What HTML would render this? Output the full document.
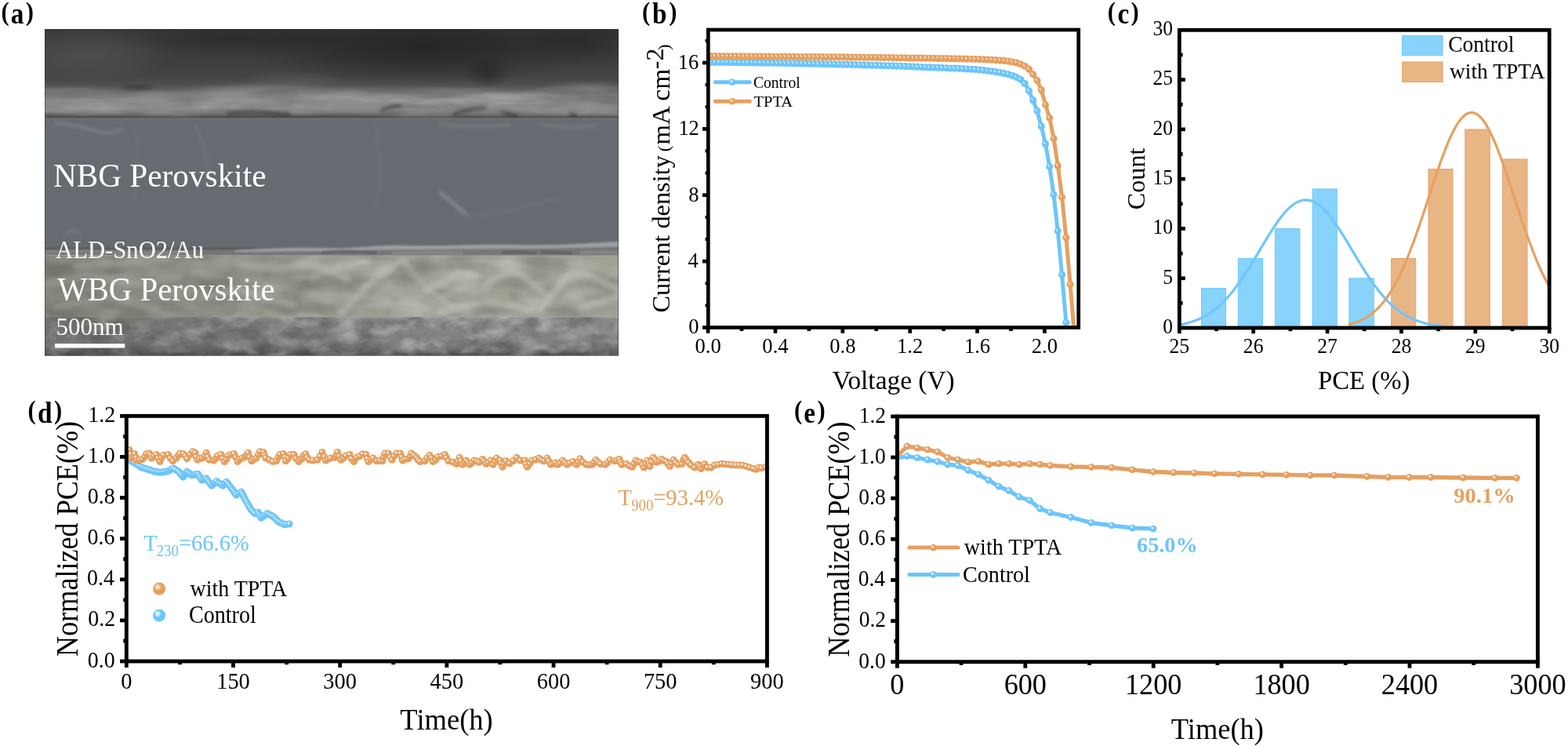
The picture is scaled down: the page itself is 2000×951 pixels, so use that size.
<!DOCTYPE html>
<html lang="en"><head><meta charset="utf-8"><title>Figure</title>
<style>
html,body{margin:0;padding:0;background:#fff;}
body{width:2000px;height:951px;overflow:hidden;position:relative;}
svg{position:absolute;left:0;top:0;display:block;}
svg text{font-family:'Liberation Serif','Times New Roman',serif;}
</style></head><body>
<svg width="2000" height="951" viewBox="0 0 2000 951">
<defs>
<g id="mb"><circle r="4.55" fill="#6cc5fa"/><ellipse cx="-1.3" cy="-1.1" rx="0.8" ry="1.75" transform="rotate(-28 -1.3 -1.1)" fill="#fff" fill-opacity="0.78"/></g>
<g id="mo"><circle r="4.55" fill="#e5a060"/><ellipse cx="-1.3" cy="-1.1" rx="0.8" ry="1.75" transform="rotate(-28 -1.3 -1.1)" fill="#fff" fill-opacity="0.78"/></g>
<g id="db"><circle r="4.55" fill="#6cc5fa"/><circle cx="-1.1" cy="-1.2" r="1.6" fill="#fff" fill-opacity="0.78"/></g>
<g id="do"><circle r="4.55" fill="#e5a060"/><circle cx="-1.1" cy="-1.2" r="1.6" fill="#fff" fill-opacity="0.78"/></g>
<g id="Mb"><circle r="4.4" fill="#6cc5fa"/><circle cx="-1" cy="-1.2" r="1.7" fill="#fff" fill-opacity="0.72"/></g>
<g id="Mo"><circle r="4.4" fill="#e5a060"/><circle cx="-1" cy="-1.2" r="1.7" fill="#fff" fill-opacity="0.72"/></g>
<radialGradient id="gLo" cx="0.38" cy="0.36" r="0.62"><stop offset="0" stop-color="#fff"/><stop offset="0.22" stop-color="#f3d2b4"/><stop offset="0.5" stop-color="#e5a060"/><stop offset="1" stop-color="#e5a060"/></radialGradient>
<radialGradient id="gLb" cx="0.38" cy="0.36" r="0.62"><stop offset="0" stop-color="#fff"/><stop offset="0.22" stop-color="#c4e8fd"/><stop offset="0.5" stop-color="#6cc5fa"/><stop offset="1" stop-color="#6cc5fa"/></radialGradient>
</defs>
<defs>
<clipPath id="clipA"><rect x="57" y="37" width="732" height="416.6"/></clipPath>
<linearGradient id="gTop" gradientUnits="userSpaceOnUse" x1="0" y1="37" x2="0" y2="151"><stop offset="0.000" stop-color="#3a3a3a"/><stop offset="0.360" stop-color="#3e3e3e"/><stop offset="0.535" stop-color="#454545"/><stop offset="0.623" stop-color="#4f4f4f"/><stop offset="0.684" stop-color="#656565"/><stop offset="0.737" stop-color="#828282"/><stop offset="0.798" stop-color="#8e8e8e"/><stop offset="0.895" stop-color="#8a8a8a"/><stop offset="0.956" stop-color="#747474"/><stop offset="1.000" stop-color="#545454"/></linearGradient>
<linearGradient id="gBot" gradientUnits="userSpaceOnUse" x1="0" y1="404" x2="0" y2="454"><stop offset="0.000" stop-color="#8e8e8e"/><stop offset="0.160" stop-color="#868686"/><stop offset="0.640" stop-color="#808080"/><stop offset="0.820" stop-color="#707070"/><stop offset="1.000" stop-color="#505050"/></linearGradient>
<linearGradient id="mTop" gradientUnits="userSpaceOnUse" x1="0" y1="37" x2="0" y2="151"><stop offset="0.000" stop-color="#000"/><stop offset="0.623" stop-color="#000"/><stop offset="0.746" stop-color="#fff"/><stop offset="0.956" stop-color="#fff"/><stop offset="1.000" stop-color="#888"/></linearGradient>
<radialGradient id="rD"><stop offset="0" stop-color="#1c1c1c" stop-opacity="0.7"/><stop offset="0.5" stop-color="#1c1c1c" stop-opacity="0.42"/><stop offset="1" stop-color="#1c1c1c" stop-opacity="0"/></radialGradient>
<radialGradient id="rD2"><stop offset="0" stop-color="#1c1c1c" stop-opacity="0.45"/><stop offset="0.5" stop-color="#1c1c1c" stop-opacity="0.27"/><stop offset="1" stop-color="#1c1c1c" stop-opacity="0"/></radialGradient>
<radialGradient id="rL"><stop offset="0" stop-color="#6a6a6a" stop-opacity="0.35"/><stop offset="0.5" stop-color="#6a6a6a" stop-opacity="0.21"/><stop offset="1" stop-color="#6a6a6a" stop-opacity="0"/></radialGradient>
<radialGradient id="rL2"><stop offset="0" stop-color="#8a8a8a" stop-opacity="0.5"/><stop offset="0.5" stop-color="#8a8a8a" stop-opacity="0.3"/><stop offset="1" stop-color="#8a8a8a" stop-opacity="0"/></radialGradient>
<filter id="blur3" x="-20%" y="-100%" width="140%" height="300%"><feGaussianBlur stdDeviation="2"/></filter>
<filter id="blur4" x="-20%" y="-100%" width="140%" height="300%"><feGaussianBlur stdDeviation="3.2"/></filter>
<filter id="blur1" x="-20%" y="-100%" width="140%" height="300%"><feGaussianBlur stdDeviation="1.2"/></filter>
<filter id="nzW" x="0" y="0" width="100%" height="100%" color-interpolation-filters="sRGB">
<feTurbulence type="fractalNoise" baseFrequency="0.016 0.03" numOctaves="3" seed="7"/>
<feColorMatrix type="matrix" values="0 0 0 0 1  0 0 0 0 1  0 0 0 0 1  2.6 0 0 0 -1.05"/></filter>
<filter id="nzD" x="0" y="0" width="100%" height="100%" color-interpolation-filters="sRGB">
<feTurbulence type="fractalNoise" baseFrequency="0.02 0.04" numOctaves="3" seed="21"/>
<feColorMatrix type="matrix" values="0 0 0 0 0  0 0 0 0 0  0 0 0 0 0  0 2.4 0 0 -1.0"/></filter>
<filter id="nzB" x="0" y="0" width="100%" height="100%" color-interpolation-filters="sRGB">
<feTurbulence type="fractalNoise" baseFrequency="0.035 0.06" numOctaves="3" seed="4"/>
<feColorMatrix type="matrix" values="0 0 0 0 1  0 0 0 0 1  0 0 0 0 1  2.6 0 0 0 -1.05"/></filter>
<filter id="nzB2" x="0" y="0" width="100%" height="100%" color-interpolation-filters="sRGB">
<feTurbulence type="fractalNoise" baseFrequency="0.035 0.06" numOctaves="3" seed="13"/>
<feColorMatrix type="matrix" values="0 0 0 0 0  0 0 0 0 0  0 0 0 0 0  0 2.4 0 0 -1.0"/></filter>
<filter id="nzT" x="0" y="0" width="100%" height="100%" color-interpolation-filters="sRGB">
<feTurbulence type="fractalNoise" baseFrequency="0.012 0.06" numOctaves="3" seed="9"/>
<feColorMatrix type="matrix" values="0 0 0 0 1  0 0 0 0 1  0 0 0 0 1  2.2 0 0 0 -0.9"/></filter>
<filter id="nzT2" x="0" y="0" width="100%" height="100%" color-interpolation-filters="sRGB">
<feTurbulence type="fractalNoise" baseFrequency="0.012 0.06" numOctaves="3" seed="31"/>
<feColorMatrix type="matrix" values="0 0 0 0 0  0 0 0 0 0  0 0 0 0 0  0 2.2 0 0 -0.9"/></filter>
<filter id="grain" x="0" y="0" width="100%" height="100%" color-interpolation-filters="sRGB">
<feTurbulence type="fractalNoise" baseFrequency="0.7" numOctaves="2" seed="2"/>
<feColorMatrix type="matrix" values="0 0 0 0 0.5  0 0 0 0 0.5  0 0 0 0 0.5  0 0 0 0 1"/></filter>
<mask id="mkTop" maskUnits="userSpaceOnUse" x="57" y="37" width="732" height="114"><rect x="57" y="37" width="732" height="114" fill="url(#mTop)"/></mask>

</defs>
<g clip-path="url(#clipA)">
<rect x="57" y="37" width="732" height="114" fill="url(#gTop)"/>
<ellipse cx="540" cy="58" rx="230" ry="50" fill="url(#rD)"/>
<ellipse cx="622" cy="93" rx="30" ry="20" fill="url(#rD2)"/>
<ellipse cx="745" cy="50" rx="90" ry="36" fill="url(#rD2)"/>
<ellipse cx="300" cy="48" rx="150" ry="26" fill="url(#rD2)"/>
<ellipse cx="110" cy="70" rx="110" ry="34" fill="url(#rL)"/>
<ellipse cx="372" cy="106" rx="70" ry="16" fill="url(#rL)"/>
<ellipse cx="176" cy="112" rx="28" ry="6" fill="url(#rD2)"/>
<ellipse cx="330" cy="114" rx="100" ry="9" fill="url(#rL2)"/>
<ellipse cx="750" cy="112" rx="60" ry="9" fill="url(#rL2)"/>
<ellipse cx="100" cy="118" rx="60" ry="7" fill="url(#rL2)"/>
<ellipse cx="560" cy="116" rx="60" ry="6" fill="url(#rL2)"/>
<g mask="url(#mkTop)">
<rect x="57" y="37" width="732" height="114" filter="url(#nzT)" opacity="0.22"/>
<rect x="57" y="37" width="732" height="114" filter="url(#nzT2)" opacity="0.2"/>
</g>
<g filter="url(#blur3)">
<path d="M57 146 C 150 149, 250 150, 340 147 S 460 151, 560 150 S 700 147, 789 150 L789 153 L57 153 Z" fill="#474747" fill-opacity="0.85"/>
<path d="M290 144 q 40 -3 80 2 M486 141 q 12 -6 26 -6 M578 146 q 20 -8 42 -8 M640 143 q 10 3 20 5 M726 146 l 10 1" stroke="#2c2c2c" stroke-width="3.2" fill="none" stroke-opacity="0.8"/>
<path d="M180 124 q 60 -8 120 -2 M380 118 q 50 -6 90 4 M650 128 q 50 -4 90 -2" stroke="#8a8a8a" stroke-width="5" fill="none" stroke-opacity="0.4"/>
</g>
<rect x="57" y="150.6" width="732" height="175.4" fill="#656b70"/>
<rect x="57" y="150.6" width="732" height="0.9" fill="#7d8388" fill-opacity="0.7"/>
<g filter="url(#blur3)" fill="none" stroke="#959da5" stroke-linecap="round">
<path d="M562 246 q 16 12 32 27" stroke-width="4.5" stroke-opacity="0.6"/>
<path d="M596 276 q 60 -6 115 -24" stroke-width="2.5" stroke-opacity="0.22"/>
<path d="M70 156 q 30 4 55 12 q 15 4 30 -4" stroke-width="3.5" stroke-opacity="0.45"/>
<path d="M250 160 q 12 30 18 70" stroke-width="4" stroke-opacity="0.18"/>
<path d="M175 170 q 5 40 -5 90" stroke-width="5" stroke-opacity="0.12"/>
<path d="M480 160 q 6 40 2 100" stroke-width="5" stroke-opacity="0.10"/>
<path d="M560 157 q 40 8 90 2 M690 158 q 30 8 70 2" stroke-width="3" stroke-opacity="0.4"/>
<path d="M82 300 q 10 -10 22 -2" stroke-width="3" stroke-opacity="0.35"/>
</g>
<g filter="url(#blur1)">
<rect x="40" y="317" width="780" height="9.5" fill="#767777"/>
<rect x="40" y="316" width="400" height="2.2" fill="#4a4d51" fill-opacity="0.9"/>
<path d="M300 319 C 340 316, 370 315, 420 316 S 470 312, 520 313 S 600 311, 660 312 S 740 310, 789 308 L789 315 C 740 316, 700 317, 660 317 S 560 318, 520 318 S 440 320, 400 320 S 340 321, 300 321 Z" fill="#a3a8ad" fill-opacity="0.85"/>
<path d="M57 321 q 40 -3 80 0 t 100 0" stroke="#8e9194" stroke-width="3" stroke-opacity="0.6" fill="none"/>
<path d="M410 322 q 30 -3 70 0 M640 322 q 20 -2 44 1 M690 321 q 20 1 40 2" stroke="#5a5b5c" stroke-width="4" stroke-opacity="0.75" fill="none"/>
<path d="M500 323 q 40 -2 90 0 M740 322 q 20 -1 49 0" stroke="#8e8f90" stroke-width="4" stroke-opacity="0.7" fill="none"/>
</g>
<rect x="57" y="325.6" width="732" height="78.6" fill="#a1a095"/>
<rect x="57" y="325.6" width="732" height="78.6" filter="url(#nzW)" opacity="0.26"/>
<rect x="57" y="325.6" width="732" height="78.6" filter="url(#nzD)" opacity="0.16"/>
<clipPath id="clipW"><rect x="57" y="326.2" width="732" height="77.6"/></clipPath>
<g clip-path="url(#clipW)"><g filter="url(#blur4)" fill="none" stroke-linecap="round" stroke-linejoin="round">
<path d="M434.7 399 L476.3 355.7 L511 332.5" stroke="#cbcac2" stroke-width="7" stroke-opacity="0.55"/>
<path d="M439.7 408 L481.3 364.7 L516 341.5" stroke="#87867e" stroke-width="7" stroke-opacity="0.32"/>
<path d="M515.7 332.5 L543.4 369.6 L575.8 390.4" stroke="#cbcac2" stroke-width="7" stroke-opacity="0.55"/>
<path d="M520.7 341.5 L548.4 378.6 L580.8 399.4" stroke="#87867e" stroke-width="7" stroke-opacity="0.32"/>
<path d="M543.4 369.6 L585 348.7 L608.2 351" stroke="#cbcac2" stroke-width="7" stroke-opacity="0.55"/>
<path d="M548.4 378.6 L590 357.7 L613.2 360" stroke="#87867e" stroke-width="7" stroke-opacity="0.32"/>
<path d="M622 360.3 L654.5 344.1 L689.2 369.6" stroke="#cbcac2" stroke-width="7" stroke-opacity="0.55"/>
<path d="M627 369.3 L659.5 353.1 L694.2 378.6" stroke="#87867e" stroke-width="7" stroke-opacity="0.32"/>
<path d="M689.2 394 L723.9 351 L747 348.7 L788.7 369.6" stroke="#cbcac2" stroke-width="7" stroke-opacity="0.55"/>
<path d="M694.2 403 L728.9 360 L752 357.7 L793.7 378.6" stroke="#87867e" stroke-width="7" stroke-opacity="0.32"/>
<path d="M400 351 L434.7 339.5 L469.4 332.5" stroke="#cbcac2" stroke-width="7" stroke-opacity="0.55"/>
<path d="M405 360 L439.7 348.5 L474.4 341.5" stroke="#87867e" stroke-width="7" stroke-opacity="0.32"/>
<path d="M96.3 339.5 L165.7 334 L212 330" stroke="#cbcac2" stroke-width="7" stroke-opacity="0.55"/>
<path d="M101.3 348.5 L170.7 343 L217 339" stroke="#87867e" stroke-width="7" stroke-opacity="0.32"/>
<path d="M304.5 337.2 L350.8 341.8 L397 337.2 L443.3 355.7" stroke="#cbcac2" stroke-width="7" stroke-opacity="0.55"/>
<path d="M309.5 346.2 L355.8 350.8 L402 346.2 L448.3 364.7" stroke="#87867e" stroke-width="7" stroke-opacity="0.32"/>
<path d="M258.2 378.8 L304.5 369.6 L373.9 388.1" stroke="#cbcac2" stroke-width="7" stroke-opacity="0.55"/>
<path d="M263.2 387.8 L309.5 378.6 L378.9 397.1" stroke="#87867e" stroke-width="7" stroke-opacity="0.32"/>
<path d="M60 362 L110 350 L170 362 L230 352" stroke="#cbcac2" stroke-width="7" stroke-opacity="0.55"/>
<path d="M65 371 L115 359 L175 371 L235 361" stroke="#87867e" stroke-width="7" stroke-opacity="0.32"/>
<path d="M70 392 L140 380 L200 394" stroke="#cbcac2" stroke-width="7" stroke-opacity="0.55"/>
<path d="M75 401 L145 389 L205 403" stroke="#87867e" stroke-width="7" stroke-opacity="0.32"/>
<path d="M560 398 L620 384 L680 396" stroke="#cbcac2" stroke-width="7" stroke-opacity="0.55"/>
<path d="M565 407 L625 393 L685 405" stroke="#87867e" stroke-width="7" stroke-opacity="0.32"/>
<path d="M740 392 L789 378" stroke="#cbcac2" stroke-width="7" stroke-opacity="0.55"/>
<path d="M745 401 L794 387" stroke="#87867e" stroke-width="7" stroke-opacity="0.32"/>
</g></g>
<rect x="57" y="325.6" width="732" height="0.8" fill="#b4b3a6" fill-opacity="0.7"/>
<rect x="57" y="403.6" width="732" height="0.8" fill="#b4b3a6" fill-opacity="0.7"/>
<rect x="57" y="404.2" width="732" height="49.4" fill="url(#gBot)"/>
<rect x="57" y="404.2" width="732" height="49.4" filter="url(#nzB)" opacity="0.32"/>
<rect x="57" y="404.2" width="732" height="49.4" filter="url(#nzB2)" opacity="0.2"/>
</g>
<linearGradient id="gLeft" gradientUnits="userSpaceOnUse" x1="57" y1="0" x2="520" y2="0"><stop offset="0" stop-color="#3a3a36" stop-opacity="0.30"/><stop offset="0.45" stop-color="#3a3a36" stop-opacity="0.18"/><stop offset="1" stop-color="#3a3a36" stop-opacity="0"/></linearGradient>
<rect x="57" y="326" width="463" height="127.6" fill="url(#gLeft)"/>
<rect x="57.4" y="37.4" width="731.2" height="415.8" fill="none" stroke="#2a2a2a" stroke-opacity="0.6" stroke-width="0.8"/>
<text transform="translate(67.96,238.4) scale(0.9791,1)" font-size="42.14" fill="#fff">NBG Perovskite</text>
<text transform="translate(71.09,328.9) scale(0.9560,1)" font-size="32.06" fill="#fff">ALD-SnO2/Au</text>
<text transform="translate(73.2,383.1) scale(0.9822,1)" font-size="41.52" fill="#fff">WBG Perovskite</text>
<text transform="translate(71.41,427.2) scale(0.9749,1)" font-size="31.85" fill="#fff">500nm</text>
<rect x="70.1" y="438.1" width="89.2" height="5.4" fill="#fff"/>
<text transform="translate(1.42,30.4) scale(1,1.12)" font-weight="bold"><tspan font-size="30.6" dy="-4.29">(</tspan><tspan font-size="33.3" dy="4.29" dx="2.23">a</tspan><tspan font-size="30.6" dy="-4.29" dx="2.23">)</tspan></text>
<text transform="translate(819.12,30.4) scale(1,1.12)" font-weight="bold"><tspan font-size="30.6" dy="-4.29">(</tspan><tspan font-size="33.3" dy="4.29" dx="2.65">b</tspan><tspan font-size="30.6" dy="-4.29" dx="2.65">)</tspan></text>
<text transform="translate(1412.82,30.4) scale(1,1.12)" font-weight="bold"><tspan font-size="30.6" dy="-4.29">(</tspan><tspan font-size="33.3" dy="4.29" dx="2.42">c</tspan><tspan font-size="30.6" dy="-4.29" dx="2.42">)</tspan></text>
<text transform="translate(35.42,538.5) scale(1,1.12)" font-weight="bold"><tspan font-size="30.6" dy="-4.29">(</tspan><tspan font-size="33.3" dy="4.29" dx="2.4">d</tspan><tspan font-size="30.6" dy="-4.29" dx="2.4">)</tspan></text>
<text transform="translate(1012.92,538.5) scale(1,1.12)" font-weight="bold"><tspan font-size="30.6" dy="-4.29">(</tspan><tspan font-size="33.3" dy="4.29" dx="2.27">e</tspan><tspan font-size="30.6" dy="-4.29" dx="2.27">)</tspan></text>
<line x1="896" y1="417.5" x2="903.3" y2="417.5" stroke="#000" stroke-width="4.7"/>
<line x1="896" y1="333.12" x2="903.3" y2="333.12" stroke="#000" stroke-width="4.7"/>
<line x1="896" y1="248.75" x2="903.3" y2="248.75" stroke="#000" stroke-width="4.7"/>
<line x1="896" y1="164.38" x2="903.3" y2="164.38" stroke="#000" stroke-width="4.7"/>
<line x1="896" y1="80" x2="903.3" y2="80" stroke="#000" stroke-width="4.7"/>
<line x1="899.5" y1="389.38" x2="903.3" y2="389.38" stroke="#000" stroke-width="3.8"/>
<line x1="899.5" y1="361.25" x2="903.3" y2="361.25" stroke="#000" stroke-width="3.8"/>
<line x1="899.5" y1="305" x2="903.3" y2="305" stroke="#000" stroke-width="3.8"/>
<line x1="899.5" y1="276.88" x2="903.3" y2="276.88" stroke="#000" stroke-width="3.8"/>
<line x1="899.5" y1="220.62" x2="903.3" y2="220.62" stroke="#000" stroke-width="3.8"/>
<line x1="899.5" y1="192.5" x2="903.3" y2="192.5" stroke="#000" stroke-width="3.8"/>
<line x1="899.5" y1="136.25" x2="903.3" y2="136.25" stroke="#000" stroke-width="3.8"/>
<line x1="899.5" y1="108.12" x2="903.3" y2="108.12" stroke="#000" stroke-width="3.8"/>
<line x1="899.5" y1="51.88" x2="903.3" y2="51.88" stroke="#000" stroke-width="3.8"/>
<line x1="903.1" y1="417.5" x2="903.1" y2="424.8" stroke="#000" stroke-width="4.7"/>
<line x1="988.96" y1="417.5" x2="988.96" y2="424.8" stroke="#000" stroke-width="4.7"/>
<line x1="1074.82" y1="417.5" x2="1074.82" y2="424.8" stroke="#000" stroke-width="4.7"/>
<line x1="1160.68" y1="417.5" x2="1160.68" y2="424.8" stroke="#000" stroke-width="4.7"/>
<line x1="1246.54" y1="417.5" x2="1246.54" y2="424.8" stroke="#000" stroke-width="4.7"/>
<line x1="1332.4" y1="417.5" x2="1332.4" y2="424.8" stroke="#000" stroke-width="4.7"/>
<line x1="946.03" y1="417.5" x2="946.03" y2="422" stroke="#000" stroke-width="4.7"/>
<line x1="1031.89" y1="417.5" x2="1031.89" y2="422" stroke="#000" stroke-width="4.7"/>
<line x1="1117.75" y1="417.5" x2="1117.75" y2="422" stroke="#000" stroke-width="4.7"/>
<line x1="1203.61" y1="417.5" x2="1203.61" y2="422" stroke="#000" stroke-width="4.7"/>
<line x1="1289.47" y1="417.5" x2="1289.47" y2="422" stroke="#000" stroke-width="4.7"/>
<g clip-path="url(#clipB)">
<clipPath id="clipB"><rect x="902.3" y="38" width="474.4" height="381.5"/></clipPath>
<polyline points="907.01,79.35 912.27,79.42 917.54,79.49 922.8,79.56 928.07,79.62 933.33,79.69 938.6,79.75 943.86,79.82 949.13,79.89 954.39,79.95 959.66,80.02 964.92,80.09 970.19,80.16 975.45,80.23 980.72,80.31 985.98,80.38 991.25,80.46 996.51,80.54 1001.78,80.63 1007.04,80.72 1012.31,80.81 1017.57,80.91 1022.84,81.02 1028.1,81.13 1033.37,81.24 1038.63,81.35 1043.9,81.46 1049.16,81.58 1054.43,81.7 1059.69,81.82 1064.96,81.95 1070.22,82.08 1075.49,82.21 1080.75,82.35 1086.02,82.49 1091.28,82.64 1096.55,82.78 1101.81,82.92 1107.08,83.07 1112.34,83.22 1117.61,83.37 1122.87,83.53 1128.14,83.69 1133.4,83.85 1138.67,84.02 1143.93,84.19 1149.2,84.37 1154.46,84.56 1159.73,84.77 1164.99,84.98 1170.26,85.21 1175.52,85.44 1180.79,85.68 1186.05,85.91 1191.32,86.14 1196.58,86.36 1201.85,86.57 1207.11,86.76 1212.38,86.95 1217.64,87.15 1222.91,87.39 1228.17,87.65 1233.44,87.94 1238.7,88.27 1243.97,88.65 1249.23,89.09 1254.5,89.61 1259.76,90.2 1265.03,90.87 1270.29,91.65 1275.56,92.55 1280.82,93.6 1286.09,94.83 1291.35,96.55 1296.62,98.64 1301.88,101.36 1307.15,106.44 1312.41,115.68 1317.68,127.91 1322.94,141.52 1328.21,160.94 1333.47,183.48 1338.74,212.53 1344,248.17 1349.27,294.51 1354.53,350.18 1359.8,411.3" fill="none" stroke="#6cc5fa" stroke-width="5" stroke-linejoin="round" stroke-linecap="round"/>
<use href="#mb" x="907.01" y="79.35"/>
<use href="#mb" x="912.27" y="79.42"/>
<use href="#mb" x="917.54" y="79.49"/>
<use href="#mb" x="922.8" y="79.56"/>
<use href="#mb" x="928.07" y="79.62"/>
<use href="#mb" x="933.33" y="79.69"/>
<use href="#mb" x="938.6" y="79.75"/>
<use href="#mb" x="943.86" y="79.82"/>
<use href="#mb" x="949.13" y="79.89"/>
<use href="#mb" x="954.39" y="79.95"/>
<use href="#mb" x="959.66" y="80.02"/>
<use href="#mb" x="964.92" y="80.09"/>
<use href="#mb" x="970.19" y="80.16"/>
<use href="#mb" x="975.45" y="80.23"/>
<use href="#mb" x="980.72" y="80.31"/>
<use href="#mb" x="985.98" y="80.38"/>
<use href="#mb" x="991.25" y="80.46"/>
<use href="#mb" x="996.51" y="80.54"/>
<use href="#mb" x="1001.78" y="80.63"/>
<use href="#mb" x="1007.04" y="80.72"/>
<use href="#mb" x="1012.31" y="80.81"/>
<use href="#mb" x="1017.57" y="80.91"/>
<use href="#mb" x="1022.84" y="81.02"/>
<use href="#mb" x="1028.1" y="81.13"/>
<use href="#mb" x="1033.37" y="81.24"/>
<use href="#mb" x="1038.63" y="81.35"/>
<use href="#mb" x="1043.9" y="81.46"/>
<use href="#mb" x="1049.16" y="81.58"/>
<use href="#mb" x="1054.43" y="81.7"/>
<use href="#mb" x="1059.69" y="81.82"/>
<use href="#mb" x="1064.96" y="81.95"/>
<use href="#mb" x="1070.22" y="82.08"/>
<use href="#mb" x="1075.49" y="82.21"/>
<use href="#mb" x="1080.75" y="82.35"/>
<use href="#mb" x="1086.02" y="82.49"/>
<use href="#mb" x="1091.28" y="82.64"/>
<use href="#mb" x="1096.55" y="82.78"/>
<use href="#mb" x="1101.81" y="82.92"/>
<use href="#mb" x="1107.08" y="83.07"/>
<use href="#mb" x="1112.34" y="83.22"/>
<use href="#mb" x="1117.61" y="83.37"/>
<use href="#mb" x="1122.87" y="83.53"/>
<use href="#mb" x="1128.14" y="83.69"/>
<use href="#mb" x="1133.4" y="83.85"/>
<use href="#mb" x="1138.67" y="84.02"/>
<use href="#mb" x="1143.93" y="84.19"/>
<use href="#mb" x="1149.2" y="84.37"/>
<use href="#mb" x="1154.46" y="84.56"/>
<use href="#mb" x="1159.73" y="84.77"/>
<use href="#mb" x="1164.99" y="84.98"/>
<use href="#mb" x="1170.26" y="85.21"/>
<use href="#mb" x="1175.52" y="85.44"/>
<use href="#mb" x="1180.79" y="85.68"/>
<use href="#mb" x="1186.05" y="85.91"/>
<use href="#mb" x="1191.32" y="86.14"/>
<use href="#mb" x="1196.58" y="86.36"/>
<use href="#mb" x="1201.85" y="86.57"/>
<use href="#mb" x="1207.11" y="86.76"/>
<use href="#mb" x="1212.38" y="86.95"/>
<use href="#mb" x="1217.64" y="87.15"/>
<use href="#mb" x="1222.91" y="87.39"/>
<use href="#mb" x="1228.17" y="87.65"/>
<use href="#mb" x="1233.44" y="87.94"/>
<use href="#mb" x="1238.7" y="88.27"/>
<use href="#mb" x="1243.97" y="88.65"/>
<use href="#mb" x="1249.23" y="89.09"/>
<use href="#mb" x="1254.5" y="89.61"/>
<use href="#mb" x="1259.76" y="90.2"/>
<use href="#mb" x="1265.03" y="90.87"/>
<use href="#mb" x="1270.29" y="91.65"/>
<use href="#mb" x="1275.56" y="92.55"/>
<use href="#mb" x="1280.82" y="93.6"/>
<use href="#mb" x="1286.09" y="94.83"/>
<use href="#mb" x="1291.35" y="96.55"/>
<use href="#mb" x="1296.62" y="98.64"/>
<use href="#mb" x="1301.88" y="101.36"/>
<use href="#mb" x="1307.15" y="106.44"/>
<use href="#mb" x="1312.41" y="115.68"/>
<use href="#mb" x="1317.68" y="127.91"/>
<use href="#mb" x="1322.94" y="141.52"/>
<use href="#mb" x="1328.21" y="160.94"/>
<use href="#mb" x="1333.47" y="183.48"/>
<use href="#mb" x="1338.74" y="212.53"/>
<use href="#mb" x="1344" y="248.17"/>
<use href="#mb" x="1349.27" y="294.51"/>
<use href="#mb" x="1354.53" y="350.18"/>
<use href="#mb" x="1359.8" y="411.3"/>
<polyline points="907.04,71.63 912.31,71.67 917.57,71.7 922.84,71.74 928.1,71.78 933.37,71.82 938.63,71.85 943.9,71.89 949.16,71.93 954.43,71.97 959.69,72.01 964.96,72.04 970.22,72.08 975.49,72.12 980.75,72.16 986.02,72.2 991.28,72.24 996.55,72.27 1001.81,72.31 1007.08,72.35 1012.34,72.39 1017.61,72.43 1022.87,72.47 1028.14,72.5 1033.4,72.54 1038.67,72.58 1043.93,72.62 1049.2,72.65 1054.46,72.69 1059.73,72.74 1064.99,72.78 1070.26,72.82 1075.52,72.87 1080.79,72.91 1086.05,72.96 1091.32,73.01 1096.58,73.07 1101.85,73.13 1107.11,73.2 1112.38,73.27 1117.64,73.34 1122.91,73.41 1128.17,73.49 1133.44,73.56 1138.7,73.64 1143.97,73.72 1149.23,73.79 1154.5,73.86 1159.76,73.93 1165.03,74 1170.29,74.07 1175.56,74.14 1180.82,74.21 1186.09,74.28 1191.35,74.36 1196.62,74.44 1201.88,74.53 1207.15,74.63 1212.41,74.72 1217.68,74.83 1222.94,74.94 1228.21,75.05 1233.47,75.18 1238.74,75.31 1244,75.46 1249.27,75.62 1254.53,75.81 1259.8,76.04 1265.06,76.31 1270.33,76.66 1275.59,77.08 1280.86,77.57 1286.12,78.15 1291.39,78.96 1296.65,80.09 1301.92,81.8 1307.18,84.28 1312.45,88.34 1317.71,94.71 1322.98,102.83 1328.24,114.83 1333.51,133.6 1338.77,150.4 1344.04,176.76 1349.3,211.44 1354.57,251.44 1359.83,302.97 1365.1,362.5 1369.6,417.5" fill="none" stroke="#e5a060" stroke-width="5" stroke-linejoin="round" stroke-linecap="round"/>
<use href="#mo" x="907.04" y="71.63"/>
<use href="#mo" x="912.31" y="71.67"/>
<use href="#mo" x="917.57" y="71.7"/>
<use href="#mo" x="922.84" y="71.74"/>
<use href="#mo" x="928.1" y="71.78"/>
<use href="#mo" x="933.37" y="71.82"/>
<use href="#mo" x="938.63" y="71.85"/>
<use href="#mo" x="943.9" y="71.89"/>
<use href="#mo" x="949.16" y="71.93"/>
<use href="#mo" x="954.43" y="71.97"/>
<use href="#mo" x="959.69" y="72.01"/>
<use href="#mo" x="964.96" y="72.04"/>
<use href="#mo" x="970.22" y="72.08"/>
<use href="#mo" x="975.49" y="72.12"/>
<use href="#mo" x="980.75" y="72.16"/>
<use href="#mo" x="986.02" y="72.2"/>
<use href="#mo" x="991.28" y="72.24"/>
<use href="#mo" x="996.55" y="72.27"/>
<use href="#mo" x="1001.81" y="72.31"/>
<use href="#mo" x="1007.08" y="72.35"/>
<use href="#mo" x="1012.34" y="72.39"/>
<use href="#mo" x="1017.61" y="72.43"/>
<use href="#mo" x="1022.87" y="72.47"/>
<use href="#mo" x="1028.14" y="72.5"/>
<use href="#mo" x="1033.4" y="72.54"/>
<use href="#mo" x="1038.67" y="72.58"/>
<use href="#mo" x="1043.93" y="72.62"/>
<use href="#mo" x="1049.2" y="72.65"/>
<use href="#mo" x="1054.46" y="72.69"/>
<use href="#mo" x="1059.73" y="72.74"/>
<use href="#mo" x="1064.99" y="72.78"/>
<use href="#mo" x="1070.26" y="72.82"/>
<use href="#mo" x="1075.52" y="72.87"/>
<use href="#mo" x="1080.79" y="72.91"/>
<use href="#mo" x="1086.05" y="72.96"/>
<use href="#mo" x="1091.32" y="73.01"/>
<use href="#mo" x="1096.58" y="73.07"/>
<use href="#mo" x="1101.85" y="73.13"/>
<use href="#mo" x="1107.11" y="73.2"/>
<use href="#mo" x="1112.38" y="73.27"/>
<use href="#mo" x="1117.64" y="73.34"/>
<use href="#mo" x="1122.91" y="73.41"/>
<use href="#mo" x="1128.17" y="73.49"/>
<use href="#mo" x="1133.44" y="73.56"/>
<use href="#mo" x="1138.7" y="73.64"/>
<use href="#mo" x="1143.97" y="73.72"/>
<use href="#mo" x="1149.23" y="73.79"/>
<use href="#mo" x="1154.5" y="73.86"/>
<use href="#mo" x="1159.76" y="73.93"/>
<use href="#mo" x="1165.03" y="74"/>
<use href="#mo" x="1170.29" y="74.07"/>
<use href="#mo" x="1175.56" y="74.14"/>
<use href="#mo" x="1180.82" y="74.21"/>
<use href="#mo" x="1186.09" y="74.28"/>
<use href="#mo" x="1191.35" y="74.36"/>
<use href="#mo" x="1196.62" y="74.44"/>
<use href="#mo" x="1201.88" y="74.53"/>
<use href="#mo" x="1207.15" y="74.63"/>
<use href="#mo" x="1212.41" y="74.72"/>
<use href="#mo" x="1217.68" y="74.83"/>
<use href="#mo" x="1222.94" y="74.94"/>
<use href="#mo" x="1228.21" y="75.05"/>
<use href="#mo" x="1233.47" y="75.18"/>
<use href="#mo" x="1238.74" y="75.31"/>
<use href="#mo" x="1244" y="75.46"/>
<use href="#mo" x="1249.27" y="75.62"/>
<use href="#mo" x="1254.53" y="75.81"/>
<use href="#mo" x="1259.8" y="76.04"/>
<use href="#mo" x="1265.06" y="76.31"/>
<use href="#mo" x="1270.33" y="76.66"/>
<use href="#mo" x="1275.59" y="77.08"/>
<use href="#mo" x="1280.86" y="77.57"/>
<use href="#mo" x="1286.12" y="78.15"/>
<use href="#mo" x="1291.39" y="78.96"/>
<use href="#mo" x="1296.65" y="80.09"/>
<use href="#mo" x="1301.92" y="81.8"/>
<use href="#mo" x="1307.18" y="84.28"/>
<use href="#mo" x="1312.45" y="88.34"/>
<use href="#mo" x="1317.71" y="94.71"/>
<use href="#mo" x="1322.98" y="102.83"/>
<use href="#mo" x="1328.24" y="114.83"/>
<use href="#mo" x="1333.51" y="133.6"/>
<use href="#mo" x="1338.77" y="150.4"/>
<use href="#mo" x="1344.04" y="176.76"/>
<use href="#mo" x="1349.3" y="211.44"/>
<use href="#mo" x="1354.57" y="251.44"/>
<use href="#mo" x="1359.83" y="302.97"/>
<use href="#mo" x="1365.1" y="362.5"/>
</g>
<rect x="903.3" y="38" width="472.4" height="379.5" fill="none" stroke="#000" stroke-width="4.7"/>
<text transform="translate(878.16,425.3) scale(0.9800,1)" font-size="27">0</text>
<text transform="translate(877.57,340.93) scale(0.9800,1)" font-size="27">4</text>
<text transform="translate(878.16,256.55) scale(0.9800,1)" font-size="27">8</text>
<text transform="translate(865.4,172.18) scale(0.9800,1)" font-size="27">12</text>
<text transform="translate(864.73,87.8) scale(0.9800,1)" font-size="27">16</text>
<text transform="translate(903.1,449.6) scale(0.9850,1)" font-size="27" text-anchor="middle">0.0</text>
<text transform="translate(988.96,449.6) scale(0.9850,1)" font-size="27" text-anchor="middle">0.4</text>
<text transform="translate(1074.82,449.6) scale(0.9850,1)" font-size="27" text-anchor="middle">0.8</text>
<text transform="translate(1160.68,449.6) scale(0.9850,1)" font-size="27" text-anchor="middle">1.2</text>
<text transform="translate(1246.54,449.6) scale(0.9850,1)" font-size="27" text-anchor="middle">1.6</text>
<text transform="translate(1332.4,449.6) scale(0.9850,1)" font-size="27" text-anchor="middle">2.0</text>
<text transform="translate(1061.57,496) scale(1.0123,1)" font-size="32.99">Voltage (V)</text>
<text transform="translate(854.1,398.49) rotate(-90) scale(1.015,1)"><tspan x="0" y="0" font-size="31.88">Current density </tspan><tspan x="202.16" y="-0.1" font-size="22">(</tspan><tspan x="210.77" y="0" font-size="32.4">mA </tspan><tspan x="265.85" y="0" font-size="33">cm</tspan><tspan x="305.71" y="-8.5" font-size="31.5">-2</tspan><tspan x="329.43" y="-0.1" font-size="22">)</tspan></text>
<line x1="912.2" y1="104.7" x2="956.4" y2="104.7" stroke="#6cc5fa" stroke-width="4.9" stroke-linecap="round"/>
<use href="#Mb" x="934" y="104.7"/>
<line x1="912.2" y1="129.2" x2="956.4" y2="129.2" stroke="#e5a060" stroke-width="4.9" stroke-linecap="round"/>
<use href="#Mo" x="934" y="129.2"/>
<text transform="translate(960.92,111.5) scale(0.9836,1)" font-size="19.93">Control</text>
<text transform="translate(961.54,136) scale(1.0409,1)" font-size="19.69">TPTA</text>
<rect x="1532.5" y="367.47" width="31" height="50.63" fill="#87d3fb" stroke="#72c8fb" stroke-width="1"/>
<rect x="1579.3" y="329.5" width="31.2" height="88.6" fill="#87d3fb" stroke="#72c8fb" stroke-width="1"/>
<rect x="1626.4" y="291.53" width="31.5" height="126.57" fill="#87d3fb" stroke="#72c8fb" stroke-width="1"/>
<rect x="1674.1" y="240.91" width="31.2" height="177.19" fill="#87d3fb" stroke="#72c8fb" stroke-width="1"/>
<rect x="1720.9" y="354.82" width="31.4" height="63.28" fill="#87d3fb" stroke="#72c8fb" stroke-width="1"/>
<rect x="1774.7" y="329.5" width="31" height="88.6" fill="#e8b585" stroke="#e5a468" stroke-width="1"/>
<rect x="1822" y="215.59" width="31" height="202.51" fill="#e8b585" stroke="#e5a468" stroke-width="1"/>
<rect x="1868.8" y="164.97" width="31.6" height="253.13" fill="#e8b585" stroke="#e5a468" stroke-width="1"/>
<rect x="1916.4" y="202.94" width="31.6" height="215.16" fill="#e8b585" stroke="#e5a468" stroke-width="1"/>
<clipPath id="clipC"><rect x="1504.3" y="38.3" width="471.9" height="379.7"/></clipPath>
<g clip-path="url(#clipC)">
<polyline points="1504.3,414.14 1507.13,413.6 1509.96,413 1512.79,412.33 1515.63,411.58 1518.46,410.76 1521.29,409.85 1524.12,408.84 1526.95,407.74 1529.78,406.52 1532.61,405.19 1535.45,403.75 1538.28,402.17 1541.11,400.46 1543.94,398.61 1546.77,396.62 1549.6,394.47 1552.43,392.17 1555.27,389.71 1558.1,387.09 1560.93,384.3 1563.76,381.34 1566.59,378.22 1569.42,374.93 1572.25,371.47 1575.09,367.85 1577.92,364.08 1580.75,360.15 1583.58,356.08 1586.41,351.88 1589.24,347.56 1592.07,343.12 1594.9,338.59 1597.74,333.98 1600.57,329.3 1603.4,324.58 1606.23,319.84 1609.06,315.09 1611.89,310.36 1614.72,305.68 1617.56,301.05 1620.39,296.52 1623.22,292.11 1626.05,287.83 1628.88,283.72 1631.71,279.79 1634.54,276.08 1637.38,272.61 1640.21,269.39 1643.04,266.45 1645.87,263.81 1648.7,261.48 1651.53,259.49 1654.36,257.84 1657.2,256.54 1660.03,255.61 1662.86,255.04 1665.69,254.86 1668.52,255.04 1671.35,255.61 1674.18,256.54 1677.02,257.84 1679.85,259.49 1682.68,261.48 1685.51,263.81 1688.34,266.45 1691.17,269.39 1694,272.61 1696.84,276.08 1699.67,279.79 1702.5,283.72 1705.33,287.83 1708.16,292.11 1710.99,296.52 1713.82,301.05 1716.65,305.68 1719.49,310.36 1722.32,315.09 1725.15,319.84 1727.98,324.58 1730.81,329.3 1733.64,333.98 1736.47,338.59 1739.31,343.12 1742.14,347.56 1744.97,351.88 1747.8,356.08 1750.63,360.15 1753.46,364.08 1756.29,367.85 1759.13,371.47 1761.96,374.93 1764.79,378.22 1767.62,381.34 1770.45,384.3 1773.28,387.09 1776.11,389.71 1778.95,392.17 1781.78,394.47 1784.61,396.62 1787.44,398.61 1790.27,400.46 1793.1,402.17 1795.93,403.75 1798.77,405.19 1801.6,406.52 1804.43,407.74 1807.26,408.84 1810.09,409.85 1812.92,410.76 1815.75,411.58 1818.59,412.33 1821.42,413 1824.25,413.6 1827.08,414.14 1829.91,414.62 1832.74,415.04 1835.57,415.42 1838.41,415.76 1841.24,416.05 1844.07,416.31" fill="none" stroke="#6ec6fb" stroke-width="3.2" stroke-linejoin="round" stroke-linecap="round"/>
<polyline points="1721.37,413.29 1723.5,412.74 1725.62,412.13 1727.74,411.47 1729.87,410.74 1731.99,409.94 1734.12,409.07 1736.24,408.12 1738.36,407.09 1740.49,405.96 1742.61,404.74 1744.73,403.42 1746.86,401.99 1748.98,400.45 1751.1,398.79 1753.23,397 1755.35,395.08 1757.47,393.02 1759.6,390.81 1761.72,388.46 1763.85,385.96 1765.97,383.29 1768.09,380.46 1770.22,377.46 1772.34,374.29 1774.46,370.93 1776.59,367.4 1778.71,363.69 1780.83,359.79 1782.96,355.71 1785.08,351.44 1787.2,346.98 1789.33,342.35 1791.45,337.53 1793.57,332.53 1795.7,327.36 1797.82,322.03 1799.95,316.53 1802.07,310.89 1804.19,305.1 1806.32,299.17 1808.44,293.13 1810.56,286.98 1812.69,280.73 1814.81,274.4 1816.93,268 1819.06,261.56 1821.18,255.09 1823.3,248.61 1825.43,242.14 1827.55,235.7 1829.68,229.31 1831.8,222.98 1833.92,216.76 1836.05,210.64 1838.17,204.67 1840.29,198.86 1842.42,193.22 1844.54,187.8 1846.66,182.6 1848.79,177.64 1850.91,172.96 1853.03,168.56 1855.16,164.46 1857.28,160.69 1859.4,157.26 1861.53,154.18 1863.65,151.47 1865.78,149.14 1867.9,147.2 1870.02,145.66 1872.15,144.52 1874.27,143.8 1876.39,143.49 1878.52,143.6 1880.64,144.12 1882.76,145.05 1884.89,146.39 1887.01,148.14 1889.13,150.28 1891.26,152.81 1893.38,155.71 1895.51,158.97 1897.63,162.58 1899.75,166.51 1901.88,170.77 1904,175.32 1906.12,180.14 1908.25,185.23 1910.37,190.54 1912.49,196.08 1914.62,201.81 1916.74,207.71 1918.86,213.75 1920.99,219.93 1923.11,226.2 1925.23,232.57 1927.36,238.99 1929.48,245.45 1931.61,251.93 1933.73,258.4 1935.85,264.86 1937.98,271.28 1940.1,277.64 1942.22,283.93 1944.35,290.13 1946.47,296.23 1948.59,302.22 1950.72,308.07 1952.84,313.79 1954.96,319.36 1957.09,324.78 1959.21,330.03 1961.34,335.11 1963.46,340.01 1965.58,344.74 1967.71,349.28 1969.83,353.64 1971.95,357.82 1974.08,361.81 1976.2,365.61" fill="none" stroke="#e5a062" stroke-width="3.2" stroke-linejoin="round" stroke-linecap="round"/>
</g>
<rect x="1504.3" y="38.3" width="471.9" height="379.7" fill="none" stroke="#000" stroke-width="4.8"/>
<line x1="1504.3" y1="354.72" x2="1511.8" y2="354.72" stroke="#000" stroke-width="4.7"/>
<line x1="1504.3" y1="291.43" x2="1511.8" y2="291.43" stroke="#000" stroke-width="4.7"/>
<line x1="1504.3" y1="228.15" x2="1511.8" y2="228.15" stroke="#000" stroke-width="4.7"/>
<line x1="1504.3" y1="164.87" x2="1511.8" y2="164.87" stroke="#000" stroke-width="4.7"/>
<line x1="1504.3" y1="101.58" x2="1511.8" y2="101.58" stroke="#000" stroke-width="4.7"/>
<line x1="1504.3" y1="386.36" x2="1508.6" y2="386.36" stroke="#000" stroke-width="4.7"/>
<line x1="1504.3" y1="323.07" x2="1508.6" y2="323.07" stroke="#000" stroke-width="4.7"/>
<line x1="1504.3" y1="259.79" x2="1508.6" y2="259.79" stroke="#000" stroke-width="4.7"/>
<line x1="1504.3" y1="196.51" x2="1508.6" y2="196.51" stroke="#000" stroke-width="4.7"/>
<line x1="1504.3" y1="133.23" x2="1508.6" y2="133.23" stroke="#000" stroke-width="4.7"/>
<line x1="1504.3" y1="69.94" x2="1508.6" y2="69.94" stroke="#000" stroke-width="4.7"/>
<line x1="1504.3" y1="418" x2="1504.3" y2="425.2" stroke="#000" stroke-width="4.7"/>
<line x1="1598.68" y1="418" x2="1598.68" y2="425.2" stroke="#000" stroke-width="4.7"/>
<line x1="1693.06" y1="418" x2="1693.06" y2="425.2" stroke="#000" stroke-width="4.7"/>
<line x1="1787.44" y1="418" x2="1787.44" y2="425.2" stroke="#000" stroke-width="4.7"/>
<line x1="1881.82" y1="418" x2="1881.82" y2="425.2" stroke="#000" stroke-width="4.7"/>
<line x1="1976.2" y1="418" x2="1976.2" y2="425.2" stroke="#000" stroke-width="4.7"/>
<line x1="1551.49" y1="418" x2="1551.49" y2="422.2" stroke="#000" stroke-width="4.7"/>
<line x1="1645.87" y1="418" x2="1645.87" y2="422.2" stroke="#000" stroke-width="4.7"/>
<line x1="1740.25" y1="418" x2="1740.25" y2="422.2" stroke="#000" stroke-width="4.7"/>
<line x1="1834.63" y1="418" x2="1834.63" y2="422.2" stroke="#000" stroke-width="4.7"/>
<line x1="1929.01" y1="418" x2="1929.01" y2="422.2" stroke="#000" stroke-width="4.7"/>
<text transform="translate(1483.23,424.9) scale(0.9600,1)" font-size="26.5">0</text>
<text transform="translate(1483.3,361.62) scale(0.9600,1)" font-size="26.5">5</text>
<text transform="translate(1470.51,298.33) scale(0.9600,1)" font-size="26.5">10</text>
<text transform="translate(1470.58,235.05) scale(0.9600,1)" font-size="26.5">15</text>
<text transform="translate(1470.51,171.77) scale(0.9600,1)" font-size="26.5">20</text>
<text transform="translate(1470.58,108.48) scale(0.9600,1)" font-size="26.5">25</text>
<text transform="translate(1470.51,45.2) scale(0.9600,1)" font-size="26.5">30</text>
<text transform="translate(1504.3,449.6) scale(0.9500,1)" font-size="27" text-anchor="middle">25</text>
<text transform="translate(1598.68,449.6) scale(0.9500,1)" font-size="27" text-anchor="middle">26</text>
<text transform="translate(1693.06,449.6) scale(0.9500,1)" font-size="27" text-anchor="middle">27</text>
<text transform="translate(1787.44,449.6) scale(0.9500,1)" font-size="27" text-anchor="middle">28</text>
<text transform="translate(1881.82,449.6) scale(0.9500,1)" font-size="27" text-anchor="middle">29</text>
<text transform="translate(1976.2,449.6) scale(0.9500,1)" font-size="27" text-anchor="middle">30</text>
<text transform="translate(1680.91,496.1) scale(0.9736,1)" font-size="33.74">PCE (%)</text>
<text transform="translate(1459.6,267.19) rotate(-90) scale(1.0015,1)" font-size="32.12">Count</text>
<rect x="1788.5" y="45.5" width="51.6" height="25.2" fill="#87d3fb" stroke="#72c8fb" stroke-width="1"/>
<rect x="1788.5" y="79.0" width="51.6" height="25.5" fill="#e8b585" stroke="#e5a468" stroke-width="1"/>
<text transform="translate(1847.2,66.2) scale(0.9451,1)" font-size="29.14">Control</text>
<text transform="translate(1849,100) scale(0.9887,1)" font-size="27.79">with TPTA</text>
<use href="#db" x="163.5" y="584"/>
<use href="#db" x="165.75" y="586"/>
<use href="#db" x="168" y="588"/>
<use href="#db" x="170.85" y="589.75"/>
<use href="#db" x="173.7" y="591.5"/>
<use href="#db" x="176.3" y="593.1"/>
<use href="#db" x="178.9" y="594.7"/>
<use href="#db" x="181.5" y="596.3"/>
<use href="#db" x="184.13" y="597.07"/>
<use href="#db" x="186.77" y="597.83"/>
<use href="#db" x="189.4" y="598.6"/>
<use href="#db" x="192.03" y="599.5"/>
<use href="#db" x="194.67" y="600.4"/>
<use href="#db" x="197.3" y="601.3"/>
<use href="#db" x="199.93" y="601.63"/>
<use href="#db" x="202.57" y="601.97"/>
<use href="#db" x="205.2" y="602.3"/>
<use href="#db" x="207.83" y="601.87"/>
<use href="#db" x="210.47" y="601.43"/>
<use href="#db" x="213.1" y="601"/>
<use href="#db" x="215.73" y="599.7"/>
<use href="#db" x="218.37" y="598.4"/>
<use href="#db" x="221" y="597.1"/>
<use href="#db" x="224.15" y="598.9"/>
<use href="#db" x="227.3" y="600.7"/>
<use href="#db" x="229.4" y="603.17"/>
<use href="#db" x="231.5" y="605.63"/>
<use href="#db" x="233.6" y="608.1"/>
<use href="#db" x="235.17" y="605.83"/>
<use href="#db" x="236.73" y="603.57"/>
<use href="#db" x="238.3" y="601.3"/>
<use href="#db" x="240.4" y="602.77"/>
<use href="#db" x="242.5" y="604.23"/>
<use href="#db" x="244.6" y="605.7"/>
<use href="#db" x="247.23" y="605.2"/>
<use href="#db" x="249.87" y="604.7"/>
<use href="#db" x="252.5" y="604.2"/>
<use href="#db" x="254.1" y="606.8"/>
<use href="#db" x="255.7" y="609.4"/>
<use href="#db" x="257.3" y="612"/>
<use href="#db" x="260.05" y="610.85"/>
<use href="#db" x="262.8" y="609.7"/>
<use href="#db" x="264.57" y="612.05"/>
<use href="#db" x="266.35" y="614.4"/>
<use href="#db" x="268.12" y="616.75"/>
<use href="#db" x="269.9" y="619.1"/>
<use href="#db" x="272" y="617.27"/>
<use href="#db" x="274.1" y="615.43"/>
<use href="#db" x="276.2" y="613.6"/>
<use href="#db" x="278.83" y="615.43"/>
<use href="#db" x="281.47" y="617.27"/>
<use href="#db" x="284.1" y="619.1"/>
<use href="#db" x="286.45" y="616.75"/>
<use href="#db" x="288.8" y="614.4"/>
<use href="#db" x="290.9" y="617.03"/>
<use href="#db" x="293" y="619.67"/>
<use href="#db" x="295.1" y="622.3"/>
<use href="#db" x="296.68" y="624.47"/>
<use href="#db" x="298.25" y="626.65"/>
<use href="#db" x="299.82" y="628.83"/>
<use href="#db" x="301.4" y="631"/>
<use href="#db" x="304.55" y="629"/>
<use href="#db" x="307.7" y="627"/>
<use href="#db" x="309.27" y="629.98"/>
<use href="#db" x="310.85" y="632.95"/>
<use href="#db" x="312.43" y="635.92"/>
<use href="#db" x="314" y="638.9"/>
<use href="#db" x="315.57" y="641.65"/>
<use href="#db" x="317.15" y="644.4"/>
<use href="#db" x="318.73" y="647.15"/>
<use href="#db" x="320.3" y="649.9"/>
<use href="#db" x="322.7" y="652.25"/>
<use href="#db" x="325.1" y="654.6"/>
<use href="#db" x="329" y="653"/>
<use href="#db" x="330.33" y="655.4"/>
<use href="#db" x="331.67" y="657.8"/>
<use href="#db" x="333" y="660.2"/>
<use href="#db" x="335.63" y="658.33"/>
<use href="#db" x="338.27" y="656.47"/>
<use href="#db" x="340.9" y="654.6"/>
<use href="#db" x="343.5" y="655.93"/>
<use href="#db" x="346.1" y="657.27"/>
<use href="#db" x="348.7" y="658.6"/>
<use href="#db" x="350.8" y="660.7"/>
<use href="#db" x="352.9" y="662.8"/>
<use href="#db" x="355" y="664.9"/>
<use href="#db" x="357.63" y="666.2"/>
<use href="#db" x="360.27" y="667.5"/>
<use href="#db" x="362.9" y="668.8"/>
<use href="#db" x="366.05" y="668.4"/>
<use href="#db" x="369.2" y="668"/>
<use href="#do" x="165" y="573.5"/>
<use href="#do" x="166.6" y="579.14"/>
<use href="#do" x="168" y="584"/>
<use href="#do" x="170.11" y="582.08"/>
<use href="#do" x="171.75" y="578.75"/>
<use href="#do" x="173.44" y="583.55"/>
<use href="#do" x="174.75" y="587"/>
<use href="#do" x="177.75" y="586.19"/>
<use href="#do" x="181.5" y="585.5"/>
<use href="#do" x="184.48" y="582.36"/>
<use href="#do" x="186.75" y="578.75"/>
<use href="#do" x="190.5" y="578"/>
<use href="#do" x="192.32" y="580.38"/>
<use href="#do" x="193.5" y="584"/>
<use href="#do" x="196.47" y="581.34"/>
<use href="#do" x="199.5" y="579.5"/>
<use href="#do" x="201.78" y="584.12"/>
<use href="#do" x="204" y="588.5"/>
<use href="#do" x="205.86" y="583.92"/>
<use href="#do" x="208.5" y="580.25"/>
<use href="#do" x="214.5" y="579.5"/>
<use href="#do" x="217.32" y="584.29"/>
<use href="#do" x="220.5" y="587.75"/>
<use href="#do" x="225" y="584"/>
<use href="#do" x="227.46" y="580.45"/>
<use href="#do" x="229.5" y="578"/>
<use href="#do" x="234" y="578.75"/>
<use href="#do" x="236.48" y="581.17"/>
<use href="#do" x="238.5" y="584.75"/>
<use href="#do" x="242.34" y="579.65"/>
<use href="#do" x="246" y="575.75"/>
<use href="#do" x="249" y="577.25"/>
<use href="#do" x="250.1" y="582.34"/>
<use href="#do" x="251.99" y="586.25"/>
<use href="#do" x="254.76" y="584.67"/>
<use href="#do" x="257.99" y="584"/>
<use href="#do" x="261.01" y="581.22"/>
<use href="#do" x="263.24" y="577.25"/>
<use href="#do" x="264.95" y="582.49"/>
<use href="#do" x="266.99" y="586.25"/>
<use href="#do" x="272.99" y="587"/>
<use href="#do" x="275.28" y="584.28"/>
<use href="#do" x="277.49" y="581"/>
<use href="#do" x="281.99" y="579.5"/>
<use href="#do" x="284.01" y="584.7"/>
<use href="#do" x="286.49" y="588.5"/>
<use href="#do" x="288.9" y="585.5"/>
<use href="#do" x="290.99" y="581"/>
<use href="#do" x="295.06" y="579.55"/>
<use href="#do" x="298.49" y="578.75"/>
<use href="#do" x="300.63" y="583.09"/>
<use href="#do" x="302.99" y="588.5"/>
<use href="#do" x="305.71" y="585.55"/>
<use href="#do" x="308.99" y="584"/>
<use href="#do" x="312.74" y="582.5"/>
<use href="#do" x="314.46" y="580.04"/>
<use href="#do" x="316.49" y="577.25"/>
<use href="#do" x="318.34" y="582.78"/>
<use href="#do" x="320.99" y="587.75"/>
<use href="#do" x="323.86" y="585.57"/>
<use href="#do" x="326.99" y="584"/>
<use href="#do" x="329.5" y="579.84"/>
<use href="#do" x="331.49" y="575.75"/>
<use href="#do" x="335.99" y="576.5"/>
<use href="#do" x="337.34" y="580.22"/>
<use href="#do" x="338.99" y="584"/>
<use href="#do" x="343.49" y="586.25"/>
<use href="#do" x="347.99" y="588.5"/>
<use href="#do" x="352.49" y="587.75"/>
<use href="#do" x="354.9" y="582.92"/>
<use href="#do" x="356.99" y="579.5"/>
<use href="#do" x="361.49" y="578.75"/>
<use href="#do" x="363.37" y="582.49"/>
<use href="#do" x="364.49" y="587.75"/>
<use href="#do" x="367.69" y="584.18"/>
<use href="#do" x="370.49" y="579.5"/>
<use href="#do" x="374.99" y="579.5"/>
<use href="#do" x="377.6" y="584.46"/>
<use href="#do" x="380.99" y="588.5"/>
<use href="#do" x="383.13" y="586.37"/>
<use href="#do" x="385.49" y="584"/>
<use href="#do" x="387.35" y="580.65"/>
<use href="#do" x="389.99" y="578.75"/>
<use href="#do" x="391.98" y="583.23"/>
<use href="#do" x="394.49" y="586.25"/>
<use href="#do" x="398.99" y="587"/>
<use href="#do" x="404.99" y="586.25"/>
<use href="#do" x="407.74" y="581.78"/>
<use href="#do" x="410.99" y="576.5"/>
<use href="#do" x="413.58" y="582.46"/>
<use href="#do" x="415.49" y="587"/>
<use href="#do" x="418.36" y="585.27"/>
<use href="#do" x="421.49" y="584"/>
<use href="#do" x="427.49" y="583.25"/>
<use href="#do" x="429.01" y="580.31"/>
<use href="#do" x="430.49" y="576.5"/>
<use href="#do" x="432.42" y="581.77"/>
<use href="#do" x="434.99" y="586.25"/>
<use href="#do" x="438.22" y="584.2"/>
<use href="#do" x="440.99" y="581"/>
<use href="#do" x="446" y="579.5"/>
<use href="#do" x="448.25" y="584.71"/>
<use href="#do" x="451.25" y="588.5"/>
<use href="#do" x="452.8" y="585.62"/>
<use href="#do" x="455" y="583.25"/>
<use href="#do" x="458.84" y="581.67"/>
<use href="#do" x="462.5" y="578.75"/>
<use href="#do" x="467" y="579.5"/>
<use href="#do" x="468.37" y="584.68"/>
<use href="#do" x="470" y="588.5"/>
<use href="#do" x="473.03" y="585.95"/>
<use href="#do" x="476" y="584"/>
<use href="#do" x="480.5" y="587.75"/>
<use href="#do" x="484.1" y="587.23"/>
<use href="#do" x="488" y="587.75"/>
<use href="#do" x="489.16" y="582.31"/>
<use href="#do" x="491" y="578"/>
<use href="#do" x="495.5" y="578"/>
<use href="#do" x="497.9" y="582.92"/>
<use href="#do" x="500" y="586.25"/>
<use href="#do" x="502.73" y="581.4"/>
<use href="#do" x="506" y="578"/>
<use href="#do" x="510.5" y="578"/>
<use href="#do" x="512.39" y="582.55"/>
<use href="#do" x="513.5" y="587"/>
<use href="#do" x="517.17" y="585.45"/>
<use href="#do" x="521" y="584.75"/>
<use href="#do" x="522.95" y="581.9"/>
<use href="#do" x="524.75" y="578"/>
<use href="#do" x="528.09" y="580.5"/>
<use href="#do" x="531.5" y="583.25"/>
<use href="#do" x="533.39" y="586.54"/>
<use href="#do" x="536" y="588.5"/>
<use href="#do" x="541.99" y="587.75"/>
<use href="#do" x="544.62" y="583.99"/>
<use href="#do" x="547.99" y="580.25"/>
<use href="#do" x="550.52" y="583.78"/>
<use href="#do" x="552.49" y="588.5"/>
<use href="#do" x="555.68" y="586.22"/>
<use href="#do" x="558.49" y="582.5"/>
<use href="#do" x="563.1" y="581.46"/>
<use href="#do" x="567.49" y="579.5"/>
<use href="#do" x="569.43" y="583.52"/>
<use href="#do" x="571.99" y="587.75"/>
<use href="#do" x="577.99" y="589.25"/>
<use href="#do" x="582.49" y="591.5"/>
<use href="#do" x="584.09" y="587.93"/>
<use href="#do" x="586.24" y="583.25"/>
<use href="#do" x="587.95" y="587.67"/>
<use href="#do" x="589.99" y="592.25"/>
<use href="#do" x="592.64" y="590.19"/>
<use href="#do" x="594.49" y="587"/>
<use href="#do" x="597.12" y="589.55"/>
<use href="#do" x="598.99" y="592.25"/>
<use href="#do" x="601.98" y="589.99"/>
<use href="#do" x="604.99" y="587"/>
<use href="#do" x="607.97" y="587.79"/>
<use href="#do" x="610.99" y="589.25"/>
<use href="#do" x="615.49" y="585.5"/>
<use href="#do" x="617.66" y="587.93"/>
<use href="#do" x="619.99" y="591.5"/>
<use href="#do" x="622.89" y="590.03"/>
<use href="#do" x="625.99" y="587"/>
<use href="#do" x="628.99" y="592.25"/>
<use href="#do" x="631.61" y="588.33"/>
<use href="#do" x="633.49" y="584"/>
<use href="#do" x="637.99" y="587"/>
<use href="#do" x="639.49" y="590.87"/>
<use href="#do" x="640.99" y="595.25"/>
<use href="#do" x="642.91" y="591.13"/>
<use href="#do" x="645.49" y="587.75"/>
<use href="#do" x="649.99" y="590.75"/>
<use href="#do" x="654.71" y="587.59"/>
<use href="#do" x="658.99" y="583.25"/>
<use href="#do" x="663.49" y="587"/>
<use href="#do" x="669.49" y="587"/>
<use href="#do" x="670.88" y="591.58"/>
<use href="#do" x="672.49" y="595.25"/>
<use href="#do" x="675.71" y="591.43"/>
<use href="#do" x="678.49" y="587"/>
<use href="#do" x="683.12" y="585.91"/>
<use href="#do" x="687.49" y="584"/>
<use href="#do" x="690.38" y="586.2"/>
<use href="#do" x="693.49" y="587.75"/>
<use href="#do" x="697.99" y="584"/>
<use href="#do" x="700.06" y="588.1"/>
<use href="#do" x="702.49" y="592.25"/>
<use href="#do" x="705.7" y="591.43"/>
<use href="#do" x="708.49" y="590"/>
<use href="#do" x="711.49" y="592.25"/>
<use href="#do" x="714.32" y="590.34"/>
<use href="#do" x="717.49" y="587"/>
<use href="#do" x="720.61" y="589.75"/>
<use href="#do" x="723.49" y="592.25"/>
<use href="#do" x="726.84" y="590.45"/>
<use href="#do" x="730.99" y="588.5"/>
<use href="#do" x="735.49" y="592.25"/>
<use href="#do" x="737.54" y="588.77"/>
<use href="#do" x="739.99" y="584.75"/>
<use href="#do" x="743.5" y="589.25"/>
<use href="#do" x="748" y="592.25"/>
<use href="#do" x="751.72" y="592.76"/>
<use href="#do" x="755.5" y="592.25"/>
<use href="#do" x="757.87" y="589.72"/>
<use href="#do" x="760" y="586.25"/>
<use href="#do" x="762.88" y="589.1"/>
<use href="#do" x="766" y="591.5"/>
<use href="#do" x="772" y="592.25"/>
<use href="#do" x="775.19" y="589.77"/>
<use href="#do" x="778" y="586.25"/>
<use href="#do" x="784" y="587.75"/>
<use href="#do" x="786.88" y="587.17"/>
<use href="#do" x="790" y="585.5"/>
<use href="#do" x="791.79" y="589.17"/>
<use href="#do" x="793" y="592.25"/>
<use href="#do" x="799" y="591.5"/>
<use href="#do" x="803.13" y="594.1"/>
<use href="#do" x="806.49" y="595.25"/>
<use href="#do" x="808.76" y="591.17"/>
<use href="#do" x="810.99" y="587"/>
<use href="#do" x="813.73" y="588.66"/>
<use href="#do" x="816.99" y="589.25"/>
<use href="#do" x="819.59" y="592.59"/>
<use href="#do" x="821.49" y="596"/>
<use href="#do" x="823.9" y="591.85"/>
<use href="#do" x="825.99" y="587"/>
<use href="#do" x="827.68" y="590.22"/>
<use href="#do" x="828.99" y="594.5"/>
<use href="#do" x="831.47" y="589"/>
<use href="#do" x="833.49" y="583.25"/>
<use href="#do" x="835.88" y="586.12"/>
<use href="#do" x="837.99" y="589.25"/>
<use href="#do" x="841.09" y="587.81"/>
<use href="#do" x="843.99" y="585.5"/>
<use href="#do" x="847.1" y="587.35"/>
<use href="#do" x="849.99" y="588.5"/>
<use href="#do" x="851.86" y="590.95"/>
<use href="#do" x="854.49" y="594.5"/>
<use href="#do" x="856.7" y="590.61"/>
<use href="#do" x="858.99" y="586.25"/>
<use href="#do" x="861.77" y="589.55"/>
<use href="#do" x="864.99" y="592.25"/>
<use href="#do" x="869.49" y="591.5"/>
<use href="#do" x="871.47" y="586.64"/>
<use href="#do" x="873.24" y="583.25"/>
<use href="#do" x="875.09" y="585.44"/>
<use href="#do" x="876.99" y="588.5"/>
<use href="#do" x="878.88" y="590.16"/>
<use href="#do" x="881.49" y="593"/>
<use href="#do" x="885.99" y="596"/>
<use href="#do" x="890.49" y="592.25"/>
<use href="#do" x="892.22" y="594.36"/>
<use href="#do" x="894.24" y="597.5"/>
<use href="#do" x="896.24" y="593.76"/>
<use href="#do" x="898.74" y="591.5"/>
<use href="#do" x="902.49" y="596"/>
<use href="#do" x="906.99" y="596"/>
<use href="#do" x="911.49" y="593"/>
<use href="#do" x="915.99" y="592.25"/>
<use href="#do" x="920.49" y="591.2"/>
<use href="#do" x="924.99" y="591.8"/>
<use href="#do" x="929.49" y="592.25"/>
<use href="#do" x="933.99" y="592.7"/>
<use href="#do" x="938.49" y="593"/>
<use href="#do" x="942.99" y="593"/>
<use href="#do" x="947.49" y="593.3"/>
<use href="#do" x="951.99" y="594.5"/>
<use href="#do" x="956.49" y="596"/>
<use href="#do" x="960.99" y="597.5"/>
<use href="#do" x="964.74" y="598.25"/>
<use href="#do" x="967.74" y="596"/>
<use href="#do" x="971.49" y="596.75"/>
<use href="#do" x="976.74" y="595.25"/>
<rect x="161.3" y="530.3" width="817.1" height="312.7" fill="none" stroke="#000" stroke-width="4.9"/>
<line x1="153" y1="843" x2="161.3" y2="843" stroke="#000" stroke-width="4.8"/>
<line x1="153" y1="790.88" x2="161.3" y2="790.88" stroke="#000" stroke-width="4.8"/>
<line x1="153" y1="738.77" x2="161.3" y2="738.77" stroke="#000" stroke-width="4.8"/>
<line x1="153" y1="686.65" x2="161.3" y2="686.65" stroke="#000" stroke-width="4.8"/>
<line x1="153" y1="634.53" x2="161.3" y2="634.53" stroke="#000" stroke-width="4.8"/>
<line x1="153" y1="582.42" x2="161.3" y2="582.42" stroke="#000" stroke-width="4.8"/>
<line x1="153" y1="530.3" x2="161.3" y2="530.3" stroke="#000" stroke-width="4.8"/>
<line x1="157.2" y1="816.94" x2="161.3" y2="816.94" stroke="#000" stroke-width="4.8"/>
<line x1="157.2" y1="764.82" x2="161.3" y2="764.82" stroke="#000" stroke-width="4.8"/>
<line x1="157.2" y1="712.71" x2="161.3" y2="712.71" stroke="#000" stroke-width="4.8"/>
<line x1="157.2" y1="660.59" x2="161.3" y2="660.59" stroke="#000" stroke-width="4.8"/>
<line x1="157.2" y1="608.47" x2="161.3" y2="608.47" stroke="#000" stroke-width="4.8"/>
<line x1="157.2" y1="556.36" x2="161.3" y2="556.36" stroke="#000" stroke-width="4.8"/>
<line x1="161.3" y1="843" x2="161.3" y2="851" stroke="#000" stroke-width="4.8"/>
<line x1="297.48" y1="843" x2="297.48" y2="851" stroke="#000" stroke-width="4.8"/>
<line x1="433.67" y1="843" x2="433.67" y2="851" stroke="#000" stroke-width="4.8"/>
<line x1="569.85" y1="843" x2="569.85" y2="851" stroke="#000" stroke-width="4.8"/>
<line x1="706.03" y1="843" x2="706.03" y2="851" stroke="#000" stroke-width="4.8"/>
<line x1="842.22" y1="843" x2="842.22" y2="851" stroke="#000" stroke-width="4.8"/>
<line x1="978.4" y1="843" x2="978.4" y2="851" stroke="#000" stroke-width="4.8"/>
<line x1="229.39" y1="843" x2="229.39" y2="847.2" stroke="#000" stroke-width="4.8"/>
<line x1="365.57" y1="843" x2="365.57" y2="847.2" stroke="#000" stroke-width="4.8"/>
<line x1="501.76" y1="843" x2="501.76" y2="847.2" stroke="#000" stroke-width="4.8"/>
<line x1="637.94" y1="843" x2="637.94" y2="847.2" stroke="#000" stroke-width="4.8"/>
<line x1="774.12" y1="843" x2="774.12" y2="847.2" stroke="#000" stroke-width="4.8"/>
<line x1="910.31" y1="843" x2="910.31" y2="847.2" stroke="#000" stroke-width="4.8"/>
<text transform="translate(111.74,850.6) scale(0.9530,1)" font-size="29.3">0.0</text>
<text transform="translate(112.23,798.48) scale(0.9530,1)" font-size="29.3">0.2</text>
<text transform="translate(111.12,746.37) scale(0.9530,1)" font-size="29.3">0.4</text>
<text transform="translate(111.53,694.25) scale(0.9530,1)" font-size="29.3">0.6</text>
<text transform="translate(111.74,642.13) scale(0.9530,1)" font-size="29.3">0.8</text>
<text transform="translate(111.74,590.02) scale(0.9530,1)" font-size="29.3">1.0</text>
<text transform="translate(112.23,537.9) scale(0.9530,1)" font-size="29.3">1.2</text>
<text transform="translate(161.3,878) scale(0.9900,1)" font-size="28.7" text-anchor="middle">0</text>
<text transform="translate(297.48,878) scale(0.9900,1)" font-size="28.7" text-anchor="middle">150</text>
<text transform="translate(433.67,878) scale(0.9900,1)" font-size="28.7" text-anchor="middle">300</text>
<text transform="translate(569.85,878) scale(0.9900,1)" font-size="28.7" text-anchor="middle">450</text>
<text transform="translate(706.03,878) scale(0.9900,1)" font-size="28.7" text-anchor="middle">600</text>
<text transform="translate(842.22,878) scale(0.9900,1)" font-size="28.7" text-anchor="middle">750</text>
<text transform="translate(978.4,878) scale(0.9900,1)" font-size="28.7" text-anchor="middle">900</text>
<text transform="translate(510.36,930.1) scale(0.9612,1)" font-size="38.02">Time(h)</text>
<text transform="translate(99.4,836.88) rotate(-90) scale(0.9246,1)" font-size="39.08">Normalized PCE(%)</text>
<text transform="scale(0.94,1)" fill="#6cc5fa"><tspan x="194.89" y="702.1" font-size="30.38">T</tspan><tspan x="212.4" y="709.1" font-size="20">230</tspan><tspan x="242.52" y="702.1" font-size="30.38">=66.6%</tspan></text>
<text transform="scale(0.94,1)" fill="#e5a060"><tspan x="838.72" y="643.6" font-size="30.38">T</tspan><tspan x="856.58" y="650.6" font-size="20">900</tspan><tspan x="886.46" y="643.6" font-size="30.38">=93.4%</tspan></text>
<circle cx="203.1" cy="750.5" r="8" fill="url(#gLo)"/>
<circle cx="203.1" cy="784.7" r="8" fill="url(#gLb)"/>
<text transform="translate(242.6,759.9) scale(0.9184,1)" font-size="30.38">with TPTA</text>
<text transform="translate(240.88,793.7) scale(0.9003,1)" font-size="31.23">Control</text>
<g clip-path="url(#clipE)">
<clipPath id="clipE"><rect x="1144.4" y="530.9" width="817" height="312.8"/></clipPath>
<polyline points="1144.4,581.5 1157,568.9 1170,571.1 1183,573.1 1196,576.1 1209,583.5 1222,586.1 1235,589.1 1248,588.1 1261,592.1 1274,591.1 1287,591.1 1300,592.1 1313.4,591.1 1326.6,592.1 1339.6,593.5 1366,594.9 1392,595.5 1418,596.1 1444.4,598.9 1471,601.5 1497,602.5 1523.3,603 1549.3,603.8 1580,604.3 1610.5,604.8 1640.8,605.3 1671.3,605.8 1702,606 1743.8,607.5 1770.8,608.3 1797.5,608.5 1825,608.5 1866.3,609 1906.8,609.3 1934.5,609.3" fill="none" stroke="#e5a060" stroke-width="5.3" stroke-linejoin="round" stroke-linecap="round"/>
<use href="#Mo" x="1157" y="568.9"/>
<use href="#Mo" x="1170" y="571.1"/>
<use href="#Mo" x="1183" y="573.1"/>
<use href="#Mo" x="1196" y="576.1"/>
<use href="#Mo" x="1209" y="583.5"/>
<use href="#Mo" x="1222" y="586.1"/>
<use href="#Mo" x="1235" y="589.1"/>
<use href="#Mo" x="1248" y="588.1"/>
<use href="#Mo" x="1261" y="592.1"/>
<use href="#Mo" x="1274" y="591.1"/>
<use href="#Mo" x="1287" y="591.1"/>
<use href="#Mo" x="1300" y="592.1"/>
<use href="#Mo" x="1313.4" y="591.1"/>
<use href="#Mo" x="1326.6" y="592.1"/>
<use href="#Mo" x="1339.6" y="593.5"/>
<use href="#Mo" x="1366" y="594.9"/>
<use href="#Mo" x="1392" y="595.5"/>
<use href="#Mo" x="1418" y="596.1"/>
<use href="#Mo" x="1444.4" y="598.9"/>
<use href="#Mo" x="1471" y="601.5"/>
<use href="#Mo" x="1497" y="602.5"/>
<use href="#Mo" x="1523.3" y="603"/>
<use href="#Mo" x="1549.3" y="603.8"/>
<use href="#Mo" x="1580" y="604.3"/>
<use href="#Mo" x="1610.5" y="604.8"/>
<use href="#Mo" x="1640.8" y="605.3"/>
<use href="#Mo" x="1671.3" y="605.8"/>
<use href="#Mo" x="1702" y="606"/>
<use href="#Mo" x="1743.8" y="607.5"/>
<use href="#Mo" x="1770.8" y="608.3"/>
<use href="#Mo" x="1797.5" y="608.5"/>
<use href="#Mo" x="1825" y="608.5"/>
<use href="#Mo" x="1866.3" y="609"/>
<use href="#Mo" x="1906.8" y="609.3"/>
<use href="#Mo" x="1934.5" y="609.3"/>
<polyline points="1144.4,583.7 1157,581.5 1170,583.5 1183,586.1 1196,588.5 1209,592.1 1222,593.5 1235,599.5 1248,604.9 1261,612.1 1274,620.1 1287,625.5 1300,633.5 1313.4,637.9 1326.6,648.5 1339.6,653.5 1366,659.5 1392,666.5 1418,669.9 1444.4,673.1 1471,674.1" fill="none" stroke="#6cc5fa" stroke-width="5.3" stroke-linejoin="round" stroke-linecap="round"/>
<use href="#Mb" x="1157" y="581.5"/>
<use href="#Mb" x="1170" y="583.5"/>
<use href="#Mb" x="1183" y="586.1"/>
<use href="#Mb" x="1196" y="588.5"/>
<use href="#Mb" x="1209" y="592.1"/>
<use href="#Mb" x="1222" y="593.5"/>
<use href="#Mb" x="1235" y="599.5"/>
<use href="#Mb" x="1248" y="604.9"/>
<use href="#Mb" x="1261" y="612.1"/>
<use href="#Mb" x="1274" y="620.1"/>
<use href="#Mb" x="1287" y="625.5"/>
<use href="#Mb" x="1300" y="633.5"/>
<use href="#Mb" x="1313.4" y="637.9"/>
<use href="#Mb" x="1326.6" y="648.5"/>
<use href="#Mb" x="1339.6" y="653.5"/>
<use href="#Mb" x="1366" y="659.5"/>
<use href="#Mb" x="1392" y="666.5"/>
<use href="#Mb" x="1418" y="669.9"/>
<use href="#Mb" x="1444.4" y="673.1"/>
<use href="#Mb" x="1471" y="674.1"/>
</g>
<rect x="1144.4" y="530.9" width="817" height="312.8" fill="none" stroke="#000" stroke-width="4.9"/>
<line x1="1136.2" y1="843.7" x2="1144.4" y2="843.7" stroke="#000" stroke-width="4.8"/>
<line x1="1136.2" y1="791.57" x2="1144.4" y2="791.57" stroke="#000" stroke-width="4.8"/>
<line x1="1136.2" y1="739.43" x2="1144.4" y2="739.43" stroke="#000" stroke-width="4.8"/>
<line x1="1136.2" y1="687.3" x2="1144.4" y2="687.3" stroke="#000" stroke-width="4.8"/>
<line x1="1136.2" y1="635.17" x2="1144.4" y2="635.17" stroke="#000" stroke-width="4.8"/>
<line x1="1136.2" y1="583.03" x2="1144.4" y2="583.03" stroke="#000" stroke-width="4.8"/>
<line x1="1136.2" y1="530.9" x2="1144.4" y2="530.9" stroke="#000" stroke-width="4.8"/>
<line x1="1140.4" y1="817.63" x2="1144.4" y2="817.63" stroke="#000" stroke-width="4.8"/>
<line x1="1140.4" y1="765.5" x2="1144.4" y2="765.5" stroke="#000" stroke-width="4.8"/>
<line x1="1140.4" y1="713.37" x2="1144.4" y2="713.37" stroke="#000" stroke-width="4.8"/>
<line x1="1140.4" y1="661.23" x2="1144.4" y2="661.23" stroke="#000" stroke-width="4.8"/>
<line x1="1140.4" y1="609.1" x2="1144.4" y2="609.1" stroke="#000" stroke-width="4.8"/>
<line x1="1140.4" y1="556.97" x2="1144.4" y2="556.97" stroke="#000" stroke-width="4.8"/>
<line x1="1144.4" y1="843.7" x2="1144.4" y2="851.7" stroke="#000" stroke-width="4.8"/>
<line x1="1307.8" y1="843.7" x2="1307.8" y2="851.7" stroke="#000" stroke-width="4.8"/>
<line x1="1471.2" y1="843.7" x2="1471.2" y2="851.7" stroke="#000" stroke-width="4.8"/>
<line x1="1634.6" y1="843.7" x2="1634.6" y2="851.7" stroke="#000" stroke-width="4.8"/>
<line x1="1798" y1="843.7" x2="1798" y2="851.7" stroke="#000" stroke-width="4.8"/>
<line x1="1961.4" y1="843.7" x2="1961.4" y2="851.7" stroke="#000" stroke-width="4.8"/>
<line x1="1226.1" y1="843.7" x2="1226.1" y2="847.9" stroke="#000" stroke-width="4.8"/>
<line x1="1389.5" y1="843.7" x2="1389.5" y2="847.9" stroke="#000" stroke-width="4.8"/>
<line x1="1552.9" y1="843.7" x2="1552.9" y2="847.9" stroke="#000" stroke-width="4.8"/>
<line x1="1716.3" y1="843.7" x2="1716.3" y2="847.9" stroke="#000" stroke-width="4.8"/>
<line x1="1879.7" y1="843.7" x2="1879.7" y2="847.9" stroke="#000" stroke-width="4.8"/>
<text transform="translate(1095.27,851.5) scale(0.9680,1)" font-size="28.4">0.0</text>
<text transform="translate(1095.75,799.37) scale(0.9680,1)" font-size="28.4">0.2</text>
<text transform="translate(1094.65,747.23) scale(0.9680,1)" font-size="28.4">0.4</text>
<text transform="translate(1095.06,695.1) scale(0.9680,1)" font-size="28.4">0.6</text>
<text transform="translate(1095.27,642.97) scale(0.9680,1)" font-size="28.4">0.8</text>
<text transform="translate(1095.27,590.83) scale(0.9680,1)" font-size="28.4">1.0</text>
<text transform="translate(1095.75,538.7) scale(0.9680,1)" font-size="28.4">1.2</text>
<text transform="translate(1144.4,884.7) scale(0.9700,1)" font-size="37.3" text-anchor="middle">0</text>
<text transform="translate(1307.8,884.7) scale(0.9700,1)" font-size="37.3" text-anchor="middle">600</text>
<text transform="translate(1471.2,884.7) scale(0.9700,1)" font-size="37.3" text-anchor="middle">1200</text>
<text transform="translate(1634.6,884.7) scale(0.9700,1)" font-size="37.3" text-anchor="middle">1800</text>
<text transform="translate(1798,884.7) scale(0.9700,1)" font-size="37.3" text-anchor="middle">2400</text>
<text transform="translate(1961.4,884.7) scale(0.9700,1)" font-size="37.3" text-anchor="middle">3000</text>
<text transform="translate(1493.86,941.5) scale(0.9784,1)" font-size="37.25">Time(h)</text>
<text transform="translate(1083,837.38) rotate(-90) scale(0.9246,1)" font-size="39.08">Normalized PCE(%)</text>
<text transform="translate(1854.22,641.3) scale(1.0824,1)" font-size="26.37" font-weight="bold" fill="#e5a060">90.1%</text>
<text transform="translate(1450.01,704.4) scale(1.0711,1)" font-size="26.37" font-weight="bold" fill="#6cc5fa">65.0%</text>
<line x1="1160" y1="698.1" x2="1222.1" y2="698.1" stroke="#e5a060" stroke-width="5" stroke-linecap="round"/>
<use href="#Mo" x="1190.5" y="698.1"/>
<line x1="1160" y1="732.5" x2="1222.1" y2="732.5" stroke="#6cc5fa" stroke-width="5" stroke-linecap="round"/>
<use href="#Mb" x="1190.5" y="732.5"/>
<text transform="translate(1229.8,707.2) scale(0.9441,1)" font-size="29.77">with TPTA</text>
<text transform="translate(1228.08,741.6) scale(0.9212,1)" font-size="30.48">Control</text>
</svg>
</body></html>
